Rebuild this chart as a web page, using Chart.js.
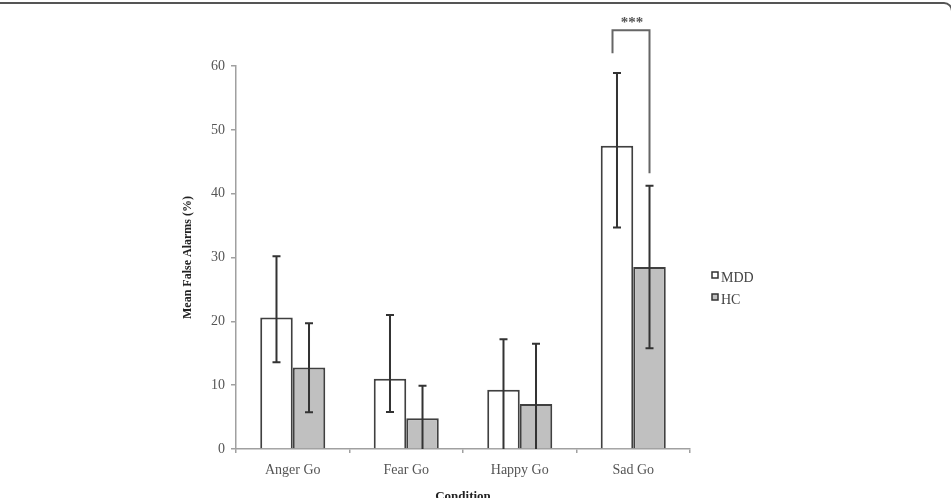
<!DOCTYPE html>
<html>
<head>
<meta charset="utf-8">
<script src="https://cdn.jsdelivr.net/npm/chart.js@4"></script>
<style>
  html, body { margin: 0; padding: 0; background: #fff; overflow: hidden; }
  #wrap { position: relative; width: 951px; height: 498px; }
  #frame { position: absolute; top: 2px; left: -20px; width: 973px; height: 700px; box-sizing: border-box;
           border: 2px solid #555; border-radius: 9px; pointer-events: none; }
  canvas { position: absolute; left: 0; top: 0; }
</style>
</head>
<body>
<div id="wrap">
  <canvas id="c" width="951" height="498"></canvas>
  <div id="frame"></div>
</div>
<script>
const categories = ['Anger Go', 'Fear Go', 'Happy Go', 'Sad Go'];
const seriesNames = ['MDD', 'HC'];
const mddMean  = [20.6, 11.0, 9.3, 47.5];
const mddUpper = [30.2, 21.0, 17.2, 58.9];
const mddLower = [13.6, 5.8, -0.5, 34.7];
const hcMean   = [12.75, 4.8, 7.05, 28.5];
const hcUpper  = [19.7, 9.9, 16.5, 41.25];
const hcLower  = [5.75, -0.3, -2.4, 15.8];
const yTicks   = [0, 10, 20, 30, 40, 50, 60];
const yTitle = 'Mean False Alarms (%)';
const xTitle = 'Condition';
// significance annotation (values in data units)
const sigCategory = 'Sad Go';
const sigLabel = '***';
const sigTop = 65.6, sigLeftEnd = 62.0, sigRightEnd = 43.2, sigLabelValue = 67.4;

const errors = [[mddLower, mddUpper], [hcLower, hcUpper]];
const SERIF = '"Liberation Serif", "Times New Roman", serif';

const errorBarPlugin = {
  id: 'errorBars',
  afterDatasetsDraw(chart) {
    const ctx = chart.ctx;
    const y = chart.scales.y;
    ctx.save();
    ctx.strokeStyle = '#333';
    ctx.lineWidth = 2;
    chart.data.datasets.forEach((ds, i) => {
      const meta = chart.getDatasetMeta(i);
      meta.data.forEach((bar, j) => {
        const lo = errors[i][0][j], hi = errors[i][1][j];
        const x = bar.x;
        const yHi = y.getPixelForValue(hi);
        const yLo = y.getPixelForValue(Math.max(lo, 0));
        ctx.beginPath();
        ctx.moveTo(x, yHi); ctx.lineTo(x, yLo);
        ctx.moveTo(x - 4, yHi); ctx.lineTo(x + 4, yHi);
        if (lo > 0) { ctx.moveTo(x - 4, yLo); ctx.lineTo(x + 4, yLo); }
        ctx.stroke();
      });
    });
    ctx.restore();
  },
  afterDraw(chart) {
    const ctx = chart.ctx;
    const y = chart.scales.y;
    const idx = categories.indexOf(sigCategory);
    const b0 = chart.getDatasetMeta(0).data[idx];
    const b1 = chart.getDatasetMeta(1).data[idx];
    const xl = Math.round(b0.x - 5) + 0.5, xr = Math.round(b1.x) - 0.5;
    const yt = y.getPixelForValue(sigTop);
    ctx.save();
    ctx.strokeStyle = '#666';
    ctx.lineWidth = 2;
    ctx.beginPath();
    ctx.moveTo(xl, y.getPixelForValue(sigLeftEnd));
    ctx.lineTo(xl, yt);
    ctx.lineTo(xr, yt);
    ctx.lineTo(xr, y.getPixelForValue(sigRightEnd));
    ctx.stroke();
    ctx.fillStyle = '#555';
    ctx.font = 'bold 15px ' + SERIF;
    ctx.textAlign = 'center';
    ctx.textBaseline = 'alphabetic';
    ctx.fillText(sigLabel, (xl + xr) / 2 + 1, y.getPixelForValue(sigLabelValue) + 8);

    // legend
    const lx = 712, rows = [277, 299];
    chart.data.datasets.forEach((ds, i) => {
      const cy = rows[i];
      ctx.fillStyle = ds.backgroundColor;
      ctx.fillRect(lx, cy - 5, 6, 6);
      ctx.strokeStyle = '#333';
      ctx.lineWidth = 1.5;
      ctx.strokeRect(lx, cy - 5, 6, 6);
      ctx.fillStyle = '#444';
      ctx.font = '14px ' + SERIF;
      ctx.textAlign = 'left';
      ctx.textBaseline = 'middle';
      ctx.fillText(ds.label, lx + 9, cy + 1);
    });
    ctx.restore();
  }
};

new Chart(document.getElementById('c'), {
  type: 'bar',
  data: {
    labels: categories,
    datasets: [
      { label: seriesNames[0], data: mddMean, backgroundColor: '#ffffff', borderColor: '#404040', borderWidth: 2 },
      { label: seriesNames[1], data: hcMean, backgroundColor: '#c0c0c0', borderColor: '#404040', borderWidth: 2 }
    ]
  },
  options: {
    responsive: false,
    animation: false,
    devicePixelRatio: 1,
    categoryPercentage: 0.573,
    barPercentage: 1,
    layout: { padding: { left: 181, right: 261, top: 66, bottom: 0 } },
    plugins: { legend: { display: false }, tooltip: { enabled: false } },
    scales: {
      x: {
        grid: { offset: true, drawOnChartArea: false, drawTicks: true, tickLength: 4, color: '#a0a0a0', lineWidth: 1.5 },
        border: { color: '#a0a0a0', width: 1.5 },
        ticks: { color: '#555', font: { family: SERIF, size: 14 }, padding: 9, maxRotation: 0 },
        title: { display: true, text: xTitle, color: '#222', font: { family: SERIF, size: 13, weight: 'bold' }, padding: { top: 0, bottom: -6 } },
        afterFit(s) { s.height = 49; }
      },
      y: {
        min: 0, max: 60,
        afterBuildTicks(s) { s.ticks = yTicks.map(v => ({ value: v })); },
        grid: { drawOnChartArea: false, drawTicks: true, tickLength: 5, color: '#a0a0a0', lineWidth: 1.5 },
        border: { color: '#a0a0a0', width: 1.5 },
        ticks: { color: '#555', font: { family: SERIF, size: 14 }, padding: 6 },
        title: { display: true, text: yTitle, color: '#222', font: { family: SERIF, size: 12, weight: 'bold' }, padding: { top: 0, bottom: 0 } },
        afterFit(s) { s.width = 55; }
      }
    }
  },
  plugins: [errorBarPlugin]
});
</script>
</body>
</html>
